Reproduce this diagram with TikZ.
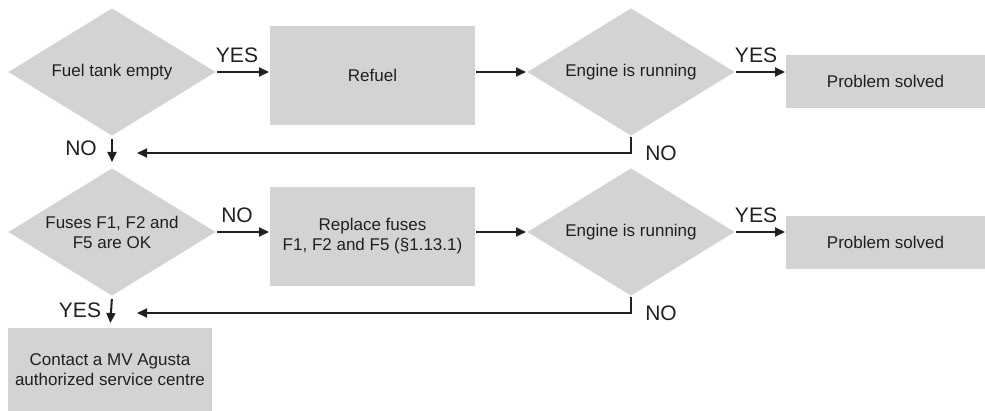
\documentclass[tikz,border=0pt]{standalone}
\usepackage{fontspec}
\setmainfont{Liberation Sans}
\usetikzlibrary{arrows.meta, positioning, shapes.geometric}
\definecolor{boxgray}{HTML}{D1D3D4}
\definecolor{ink}{HTML}{231F20}

\begin{document}
\begin{tikzpicture}[x=1pt, y=-1pt, line width=2pt, color=ink]

		\tikzset{
			check/.style={
					diamond, fill=boxgray, aspect=1.625, inner sep=0pt, minimum width=208pt, minimum height=128pt, align=center, font=\fontsize{17}{20}\selectfont
				},
			action/.style={
					rectangle, fill=boxgray, inner sep=0pt, minimum width=205pt, minimum height=99pt, align=center, font=\fontsize{17}{20}\selectfont
				},
			result/.style={
					rectangle, fill=boxgray, inner sep=0pt, minimum width=199pt, minimum height=53pt, align=center, font=\fontsize{17}{20}\selectfont
				},
			answer/.style={
					inner sep=0pt, font=\fontsize{21}{24}\selectfont
				},
			flow/.style={
					-{Triangle[length=10pt, width=9pt]}
				},
		}
		\useasboundingbox (0,0) rectangle (985,411);

		% first row
		\node[check](fuel) at (112,72){Fuel tank empty};
		\node[action](refuel) at (372.5,75.5){Refuel};
		\node[check](run1) at (631,72){Engine is running};
		\node[result](solved1) at (885.5,81.5){Problem solved};

		\node[answer](yes1) at (237,55){YES};
		\node[answer](yes2) at (756,55){YES};
		\node[answer](no1) at (661,153){NO};
		\node[answer](no2) at (81,148){NO};
		\coordinate (back1) at (137,153);

		\draw[flow] (fuel.east) -- (fuel.east -| refuel.west);
		\draw[flow] (run1.west -| refuel.east) -- (run1.west);
		\draw[flow] (run1.east) -- (run1.east -| solved1.west);
		\draw[flow] (run1.south) |- (back1);

		% second row
		\node[check](fuses) at (112,232){Fuses F1, F2 and\\F5 are OK};
		\node[action](replace) at (372.5,236.5){Replace fuses\\F1, F2 and F5 (\S1.13.1)};
		\node[check](run2) at (631,232){Engine is running};
		\node[result](solved2) at (885.5,242.5){Problem solved};

		\node[answer](no3) at (237,215){NO};
		\node[answer](yes3) at (756,215){YES};
		\node[answer](no4) at (661,313){NO};
		\node[answer](yes4) at (80,310){YES};
		\coordinate (back2) at (137,313);

		\draw[flow, shorten <=2pt, shorten >=5pt] (fuel.south) -- (fuses.north);
		\draw[flow] (fuses.east) -- (fuses.east -| replace.west);
		\draw[flow] (run2.west -| replace.east) -- (run2.west);
		\draw[flow] (run2.east) -- (run2.east -| solved2.west);
		\draw[flow] (run2.south) |- (back2);

		% last step
		\node[rectangle, fill=boxgray, inner sep=0pt, minimum width=204pt, minimum height=83pt, align=center, font=\fontsize{17}{20}\selectfont](contact) at (110,369.5){Contact a MV Agusta\\authorized service centre};

		\draw[flow, shorten <=2pt, shorten >=4pt] (fuses.south) -- (contact.north);

	\end{tikzpicture}
\end{document}
